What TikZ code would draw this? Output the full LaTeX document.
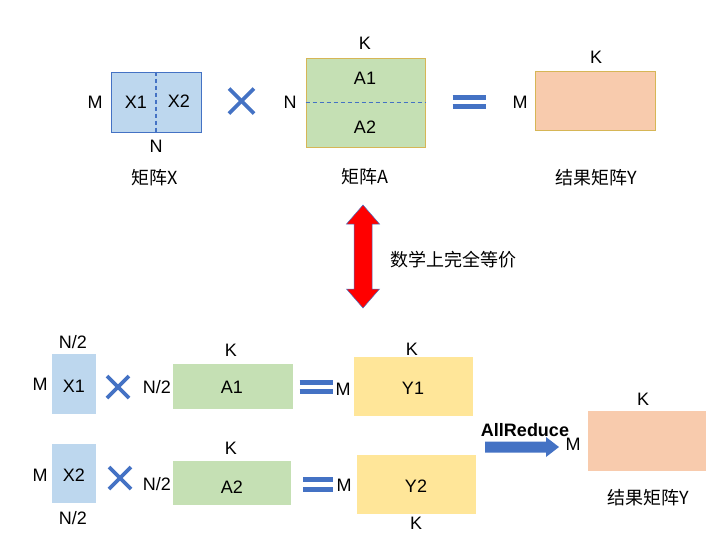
\documentclass[tikz,border=0pt]{standalone}
\usepackage{fontspec}
\usetikzlibrary{calc}
\setmainfont{Liberation Sans}
\newfontfamily\cjk{Noto Sans CJK SC}
\definecolor{mblue}{HTML}{4472C4}
\definecolor{fblue}{HTML}{BDD7EE}
\definecolor{fgreen}{HTML}{C5E0B4}
\definecolor{fyellow}{HTML}{FFE699}
\definecolor{fpeach}{HTML}{F8CBAD}
\definecolor{gold}{HTML}{D6B656}
\begin{document}
\begin{tikzpicture}[x=1pt,y=-1pt,
  every node/.style={font=\fontsize{18}{21}\selectfont, inner sep=0pt},
  xbox/.style={draw=mblue, line width=0.8pt, fill=fblue},
  gbox/.style={draw=gold, line width=0.8pt},
  cn/.style={font=\cjk\fontsize{18}{21}\selectfont},
  crossl/.style={mblue, line width=3.8pt},
  eqbar/.style={mblue, line width=4.5pt},
  split/.style={mblue, line width=1.3pt, dash pattern=on 4pt off 3pt}]
\useasboundingbox (0,0) rectangle (721,539);

% ---------- top row ----------
\node[xbox, minimum width=90pt, minimum height=60pt] (X) at (156,102) {};
\draw[split] (X.north) -- (X.south);
\node (X1) at (136,102) {X1};
\node (X2) at (179,101) {X2};
\node (XM) at (95,102) {M};
\node (XN) at (156,146) {N};
\node[cn] (Xname) at (155,178) {矩阵X};

\coordinate (c1) at (241.5,101);
\draw[crossl] ($(c1)+(-12.5,-12.5)$) -- ($(c1)+(12.5,12.5)$);
\draw[crossl] ($(c1)+(-12.5,12.5)$) -- ($(c1)+(12.5,-12.5)$);

\node[gbox, fill=fgreen, minimum width=119pt, minimum height=89pt] (A) at (365.5,102.5) {};
\draw[split] (A.west) -- (A.east);
\node (A1) at (365,78) {A1};
\node (A2) at (365,127) {A2};
\node (AK) at (365,43) {K};
\node (AN) at (290,102) {N};
\node[cn] (Aname) at (365,177) {矩阵A};

\coordinate (e1) at (469,102);
\draw[eqbar] ($(e1)+(-16.5,-4.5)$) -- ($(e1)+(16.5,-4.5)$);
\draw[eqbar] ($(e1)+(-16.5,4.5)$) -- ($(e1)+(16.5,4.5)$);

\node[gbox, fill=fpeach, minimum width=120pt, minimum height=59pt] (Y) at (595,100.5) {};
\node (YK) at (596,57) {K};
\node (YM) at (520,102) {M};
\node[cn] (Yname) at (596,178) {结果矩阵Y};

% ---------- equivalence arrow ----------
\draw[draw=mblue, line width=0.5pt, fill=red]
  (363,205) -- (379.5,224) -- (372,224) -- (372,289) -- (379.5,289) -- (363,308)
  -- (346.5,289) -- (354,289) -- (354,224) -- (346.5,224) -- cycle;
\node[cn, anchor=west] (eq) at (390,260) {数学上完全等价};

% ---------- bottom, first row ----------
\node[fill=fblue, minimum width=44pt, minimum height=60pt] (BX1) at (74,384) {};
\node (BX1t) at (74,386) {X1};
\node (BX1M) at (40,384) {M};
\node (BX1N) at (73,342) {N/2};
\coordinate (c2) at (118,387);
\draw[crossl] ($(c2)+(-11,-11)$) -- ($(c2)+(11,11)$);
\draw[crossl] ($(c2)+(-11,11)$) -- ($(c2)+(11,-11)$);
\node (BA1N) at (157,387) {N/2};
\node[fill=fgreen, minimum width=120pt, minimum height=45pt] (BA1) at (233,386.5) {};
\node (BA1t) at (232,387) {A1};
\node (BA1K) at (231,350) {K};
\coordinate (e2) at (316,387);
\draw[eqbar] ($(e2)+(-16.5,-4.5)$) -- ($(e2)+(16.5,-4.5)$);
\draw[eqbar] ($(e2)+(-16.5,4.5)$) -- ($(e2)+(16.5,4.5)$);
\node (BY1M) at (343,389) {M};
\node[fill=fyellow, minimum width=119pt, minimum height=59pt] (BY1) at (413.5,386.5) {};
\node (BY1t) at (413,388) {Y1};
\node (BY1K) at (412,349) {K};

% ---------- bottom, second row ----------
\node[fill=fblue, minimum width=44pt, minimum height=59pt] (BX2) at (74,473.5) {};
\node (BX2t) at (74,475) {X2};
\node (BX2M) at (40,475) {M};
\node (BX2N) at (73,518) {N/2};
\coordinate (c3) at (120,478);
\draw[crossl] ($(c3)+(-11,-11)$) -- ($(c3)+(11,11)$);
\draw[crossl] ($(c3)+(-11,11)$) -- ($(c3)+(11,-11)$);
\node (BA2N) at (157,484) {N/2};
\node[fill=fgreen, minimum width=118pt, minimum height=44pt] (BA2) at (232,483) {};
\node (BA2t) at (232,487) {A2};
\node (BA2K) at (231,448) {K};
\coordinate (e3) at (318,484.5);
\draw[eqbar] ($(e3)+(-15,-5)$) -- ($(e3)+(15,-5)$);
\draw[eqbar] ($(e3)+(-15,5)$) -- ($(e3)+(15,5)$);
\node (BY2M) at (344,485) {M};
\node[fill=fyellow, minimum width=119pt, minimum height=59pt] (BY2) at (416.5,484.5) {};
\node (BY2t) at (416,486) {Y2};
\node (BY2K) at (416,523) {K};

% ---------- AllReduce ----------
\node[font=\bfseries\fontsize{18}{21}\selectfont] (AR) at (525,430) {AllReduce};
\fill[mblue] (485,441.5) -- (546,441.5) -- (546,437) -- (559,447) -- (546,457) -- (546,452.5) -- (485,452.5) -- cycle;
\node[fill=fpeach, minimum width=118pt, minimum height=60pt] (R) at (647,441) {};
\node (RK) at (643,399) {K};
\node (RM) at (573,444) {M};
\node[cn] (Rname) at (648,498) {结果矩阵Y};
\end{tikzpicture}
\end{document}
